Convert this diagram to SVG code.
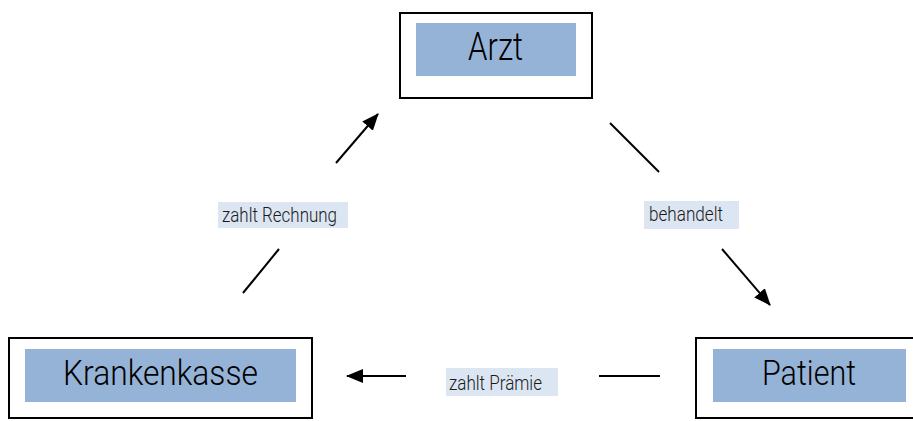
<svg xmlns="http://www.w3.org/2000/svg" width="913" height="421" viewBox="0 0 913 421">
<style>
.outer{fill:#fff;stroke:#000;stroke-width:2}
.inner{fill:#95b3d7}
.nt{font-family:Roboto,"Liberation Sans",Arial,sans-serif;font-weight:300;font-size:35px;fill:#000}
.lbg{fill:#dce6f2}
.lt{font-family:Roboto,"Liberation Sans",Arial,sans-serif;font-weight:300;font-size:20px;fill:#1a1a1a}
.ln{stroke:#000;stroke-width:2;fill:none}
</style>
<defs>
<marker id="ah" markerUnits="userSpaceOnUse" markerWidth="18" markerHeight="14" refX="16" refY="7" orient="auto">
<path d="M0,0 L17,7 L0,14 z" fill="#000"/>
</marker>
</defs>
<rect width="913" height="421" fill="#fff"/>
<g id="arzt">
<rect class="outer" x="400" y="13" width="192" height="85"/>
<rect class="inner" x="416" y="23" width="160" height="53"/>
<text class="nt" x="468" y="60" style="font-size:39px" textLength="55" lengthAdjust="spacingAndGlyphs">Arzt</text>
</g>
<g id="krankenkasse">
<rect class="outer" x="9" y="338" width="303" height="80"/>
<rect class="inner" x="25" y="349" width="271" height="53"/>
<text class="nt" x="63" y="385" textLength="195" lengthAdjust="spacingAndGlyphs">Krankenkasse</text>
</g>
<g id="patient">
<rect class="outer" x="696" y="338" width="220" height="80"/>
<rect class="inner" x="713" y="349" width="193" height="53"/>
<text class="nt" x="762" y="385" textLength="94" lengthAdjust="spacingAndGlyphs">Patient</text>
</g>
<g id="connectors">
<line class="ln" x1="243" y1="293" x2="279" y2="249"/>
<line class="ln" x1="336" y1="163" x2="378" y2="114" marker-end="url(#ah)"/>
<line class="ln" x1="610" y1="123" x2="659" y2="172"/>
<line class="ln" x1="722" y1="249" x2="770" y2="305" marker-end="url(#ah)"/>
<line class="ln" x1="660" y1="376" x2="599" y2="376"/>
<line class="ln" x1="406" y1="376" x2="347" y2="376" marker-end="url(#ah)"/>
</g>
<g id="label-rechnung">
<rect class="lbg" x="218" y="202" width="130" height="26"/>
<text class="lt" x="222" y="222" textLength="115" lengthAdjust="spacingAndGlyphs">zahlt Rechnung</text>
</g>
<g id="label-behandelt">
<rect class="lbg" x="644" y="201" width="95" height="28"/>
<text class="lt" x="649" y="221" textLength="74" lengthAdjust="spacingAndGlyphs">behandelt</text>
</g>
<g id="label-praemie">
<rect class="lbg" x="446" y="368" width="112" height="28"/>
<text class="lt" x="449" y="390" textLength="93" lengthAdjust="spacingAndGlyphs">zahlt Prämie</text>
</g>
</svg>
